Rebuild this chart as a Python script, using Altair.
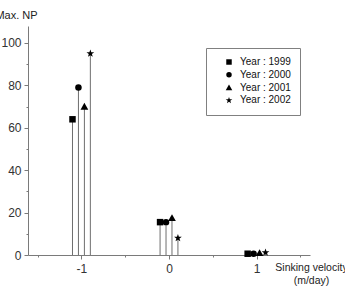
import altair as alt
import pandas as pd

# ---- data ----
velocity = [-1, 0, 1]
years = ["1999", "2000", "2001", "2002"]
np_1999 = [64, 15.5, 0.6]
np_2000 = [79, 15.5, 0.6]
np_2001 = [70, 17.5, 1.0]
np_2002 = [95, 8, 1.2]

rows = []
for yr, vals in zip(years, [np_1999, np_2000, np_2001, np_2002]):
    for v, n in zip(velocity, vals):
        rows.append({"velocity": v, "year": yr, "np": n})
df = pd.DataFrame(rows)

FONT = "Liberation Sans"
AX = "#7a7a7a"
STAR = ("M0,-1.25L0.3,-0.41L1.2,-0.39L0.48,0.15L0.74,1.01L0,0.5L-0.74,1.01"
        "L-0.48,0.15L-1.2,-0.39L-0.3,-0.41Z")
TRI = "M0,-1.15L1.2,0.95L-1.2,0.95Z"

xs = alt.Scale(domain=[-1.61, 1.61], nice=False, zero=False)
ys = alt.Scale(domain=[0, 108], nice=False, zero=True)

base = alt.Chart(df).transform_calculate(
    xpos="datum.velocity + (toNumber(datum.year) - 2000.5) * 0.068"
)

stems = base.mark_rule(color="#6e6e6e", strokeWidth=1).encode(
    x=alt.X("xpos:Q", scale=xs, axis=alt.Axis(
        orient="bottom", values=[-1, 0, 1], labelExpr="'' + datum.value",
        tickSize=4, labelPadding=4,
        title=["Sinking velocity", "(m/day)"], titleX=283, titleY=7,
        titleAlign="center", titleBaseline="top", titleLineHeight=13,
        titleFontWeight="normal", titleFontSize=10.5, titleFont=FONT, titleColor="#222",
        grid=False)),
    y=alt.Y("np:Q", scale=ys, axis=alt.Axis(
        orient="left", values=[0, 20, 40, 60, 80, 100], tickSize=4, labelPadding=3,
        title="Max. NP", titleAngle=0, titleX=-12, titleY=-11,
        titleAlign="center", titleBaseline="middle",
        titleFontWeight="normal", titleFontSize=11, titleFont=FONT, titleColor="#222",
        grid=False)),
    y2=alt.datum(0),
)

pts = base.mark_point(filled=True, color="black", opacity=1, strokeWidth=0, size=42).encode(
    x=alt.X("xpos:Q", scale=xs, axis=alt.Axis(
        orient="bottom", values=[-1.5, -0.5, 0.5, 1.5], labels=False, domain=False,
        tickSize=2, title=None, grid=False)),
    y=alt.Y("np:Q", scale=ys, axis=alt.Axis(
        orient="left", values=[10, 30, 50, 70, 90], labels=False, domain=False,
        tickSize=2, title=None, grid=False)),
    shape=alt.Shape("year:N", scale=alt.Scale(
        domain=years, range=["square", "circle", TRI, STAR]),
        legend=alt.Legend(
            title=None, orient="none", legendX=178, legendY=22,
            strokeColor="#808080", fillColor="white", padding=9,
            symbolOffset=9, labelOffset=6, rowPadding=2.8,
            labelFontSize=10, labelFont=FONT, labelColor="#111",
            symbolFillColor="black", symbolStrokeColor="black", symbolStrokeWidth=0,
            symbolSize=30, labelExpr="'Year : ' + datum.label")),
)

chart = alt.layer(stems, pts).resolve_axis(x="independent", y="independent").properties(
    width=282, height=229,
    autosize=alt.AutoSizeParams(type="none"),
    padding={"left": 28, "top": 26, "right": 35, "bottom": 39},
    background="white",
).configure_view(stroke=None).configure_axis(
    domainColor=AX, tickColor=AX, labelFont=FONT, labelFontSize=12, labelColor="#333",
)

chart.save("out.html", embed_options={"renderer": "svg", "actions": False})
